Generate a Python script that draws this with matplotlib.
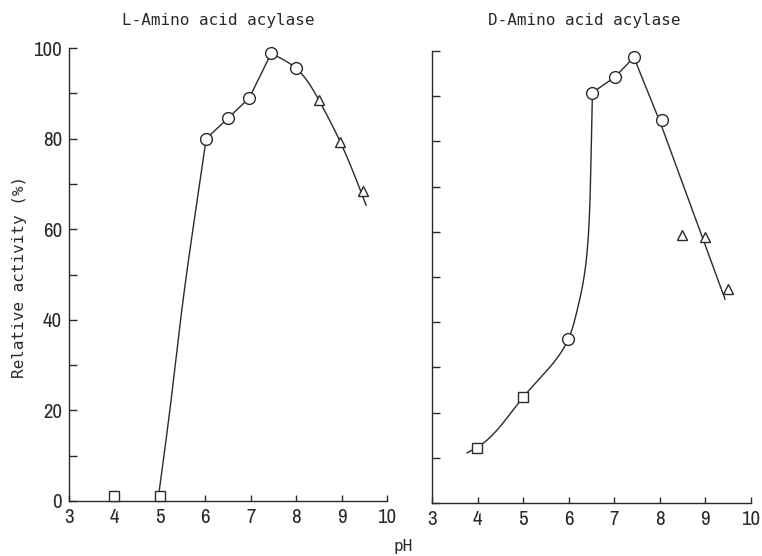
import numpy as np
import matplotlib
matplotlib.use("Agg")
import matplotlib.pyplot as plt
from matplotlib.ticker import MultipleLocator

# ---------------- data ----------------
# L-Amino acid acylase
L_sq_ph = [4.0, 5.0]
L_sq_act = [1.0, 1.0]
L_ci_ph = [6.02, 6.5, 6.97, 7.45, 8.0]
L_ci_act = [80.0, 84.5, 89.0, 98.8, 95.5]
L_tr_ph = [8.5, 8.97, 9.47]
L_tr_act = [88.5, 79.3, 68.4]
# hand-drawn fitted curve (knots), in three pieces
L_curve1_ph = [4.97, 5.25, 5.5, 5.75, 6.02]
L_curve1_act = [1.0, 22.5, 43.5, 61.5, 80.0]
L_curve2_ph = [6.02, 6.5, 6.97, 7.45]
L_curve2_act = [80.0, 84.5, 89.0, 98.8]
L_curve3_ph = [7.45, 8.0, 8.5, 8.97, 9.54]
L_curve3_act = [98.8, 95.5, 88.5, 79.3, 65.3]

# D-Amino acid acylase
D_sq_ph = [3.99, 4.99]
D_sq_act = [12.2, 23.5]
D_ci_ph = [5.99, 6.52, 7.01, 7.43, 8.04]
D_ci_act = [36.2, 90.8, 94.2, 98.6, 84.7]
D_tr_ph = [8.49, 9.0, 9.5]
D_tr_act = [59.3, 58.9, 47.3]
D_curve1_ph = [3.77, 3.99, 4.99, 5.99, 6.17, 6.32, 6.43, 6.48, 6.52]
D_curve1_act = [11.1, 12.3, 23.3, 36.2, 42.0, 49.0, 59.0, 72.0, 90.8]
D_curve2_ph = [6.52, 7.01, 7.43]
D_curve2_act = [90.8, 94.2, 98.6]
D_curve3_ph = [7.43, 8.03, 9.43]
D_curve3_act = [98.6, 83.6, 45.1]

x_ticks = [3, 4, 5, 6, 7, 8, 9, 10]
y_ticks = [0, 20, 40, 60, 80, 100]

titles = ["L-Amino acid acylase", "D-Amino acid acylase"]
ylabel = "Relative activity (%)"
xlabel = "pH"

INK = "#2a2a2a"
MONO = "DejaVu Sans Mono"
NARROW = ["Archivo Narrow", "Liberation Sans Narrow", "DejaVu Sans"]


def natural_spline_1d(t, v, ts):
    n = len(t)
    h = np.diff(t)
    A = np.zeros((n, n))
    r = np.zeros(n)
    A[0, 0] = A[-1, -1] = 1.0
    for i in range(1, n - 1):
        A[i, i - 1] = h[i - 1]
        A[i, i] = 2 * (h[i - 1] + h[i])
        A[i, i + 1] = h[i]
        r[i] = 6 * ((v[i + 1] - v[i]) / h[i] - (v[i] - v[i - 1]) / h[i - 1])
    M = np.linalg.solve(A, r)
    idx = np.clip(np.searchsorted(t, ts) - 1, 0, n - 2)
    t0, t1 = t[idx], t[idx + 1]
    hh = t1 - t0
    a = (t1 - ts) / hh
    b = (ts - t0) / hh
    return (a * v[idx] + b * v[idx + 1]
            + ((a**3 - a) * M[idx] + (b**3 - b) * M[idx + 1]) * hh**2 / 6)


def smooth_curve(xk, yk, n=300, xscale=10.0):
    x = np.asarray(xk, float)
    y = np.asarray(yk, float)
    if len(x) < 3:
        return x, y
    d = np.hypot(np.diff(x) * xscale, np.diff(y))
    t = np.concatenate([[0], np.cumsum(d)])
    ts = np.linspace(0, t[-1], n)
    return natural_spline_1d(t, x, ts), natural_spline_1d(t, y, ts)


fig = plt.figure(figsize=(7.62, 5.56), dpi=100)
axL = fig.add_axes([69 / 762, 1 - 501 / 556, 318 / 762, 453 / 556])
axR = fig.add_axes([432 / 762, 1 - 503 / 556, 319 / 762, 452 / 556])


def style(ax, labels_y):
    ax.set_xlim(3, 10)
    ax.set_ylim(0, 100)
    for s in ["top", "right"]:
        ax.spines[s].set_visible(False)
    for s in ["left", "bottom"]:
        ax.spines[s].set_color(INK)
        ax.spines[s].set_linewidth(1.0)
    ax.set_xticks(x_ticks)
    ax.set_xticklabels([str(v) for v in x_ticks])
    ax.set_yticks(y_ticks)
    ax.yaxis.set_minor_locator(MultipleLocator(10))
    ax.tick_params(axis="x", direction="in", length=4, width=1.0, color=INK,
                   pad=5, labelsize=15, labelcolor=INK)
    ax.tick_params(axis="y", which="both", direction="in", length=6, width=1.0,
                   color=INK, pad=5, labelsize=15, labelcolor=INK)
    for lab in ax.get_xticklabels() + ax.get_yticklabels():
        lab.set_family(NARROW)
    if not labels_y:
        ax.set_yticklabels([])


style(axL, True)
style(axR, False)

lw = 1.0
for ax, curves in [
    (axL, [(L_curve1_ph, L_curve1_act, True), (L_curve2_ph, L_curve2_act, False),
           (L_curve3_ph, L_curve3_act, True)]),
    (axR, [(D_curve1_ph, D_curve1_act, True), (D_curve2_ph, D_curve2_act, False),
           (D_curve3_ph, D_curve3_act, False)]),
]:
    for xk, yk, smooth in curves:
        if smooth:
            xs, ys = smooth_curve(xk, yk)
        else:
            xs, ys = xk, yk
        ax.plot(xs, ys, color=INK, lw=lw, zorder=2, clip_on=False)

mk = dict(mfc="white", mec=INK, mew=1.0, ls="none", zorder=3, clip_on=False)
axL.plot(L_sq_ph, L_sq_act, marker="s", ms=7.5, **mk)
axL.plot(L_ci_ph, L_ci_act, marker="o", ms=8.5, **mk)
axL.plot(L_tr_ph, L_tr_act, marker="^", ms=6.5, **mk)
axR.plot(D_sq_ph, D_sq_act, marker="s", ms=7.5, **mk)
axR.plot(D_ci_ph, D_ci_act, marker="o", ms=8.5, **mk)
axR.plot(D_tr_ph, D_tr_act, marker="^", ms=6.5, **mk)

fig.text(218 / 762, 1 - 20 / 556, titles[0], family=MONO, fontsize=11.5,
         color=INK, ha="center", va="center")
fig.text(584 / 762, 1 - 20 / 556, titles[1], family=MONO, fontsize=11.5,
         color=INK, ha="center", va="center")
fig.text(20 / 762, 1 - 277 / 556, ylabel, family=MONO, fontsize=11.5,
         color=INK, ha="center", va="center", rotation=90)
fig.text(403 / 762, 1 - 546 / 556, xlabel, family=MONO, fontsize=11.5,
         color=INK, ha="center", va="center")

fig.savefig("out.png", dpi=100)
